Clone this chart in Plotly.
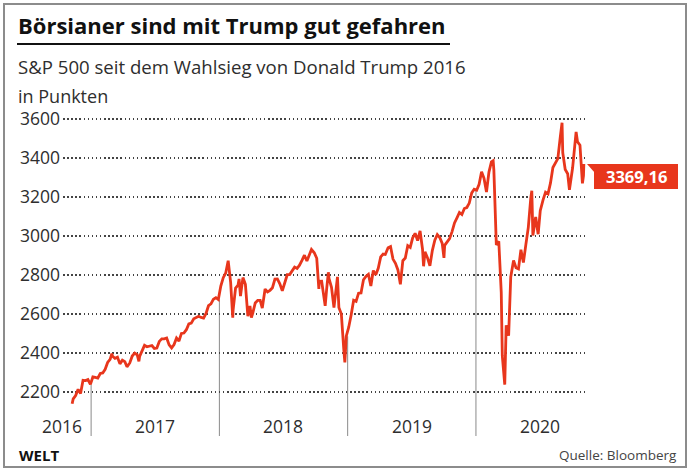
import plotly.graph_objects as go

# ---------------- data (S&P 500 approx. weekly) ----------------
dates = [
    "2016-11-08", "2016-11-11", "2016-11-18", "2016-11-25", "2016-12-02", "2016-12-09",
    "2016-12-16", "2016-12-23", "2016-12-30",
    "2017-01-06", "2017-01-13", "2017-01-20", "2017-01-27", "2017-02-03", "2017-02-10",
    "2017-02-17", "2017-02-24", "2017-03-01", "2017-03-03", "2017-03-10", "2017-03-17",
    "2017-03-24", "2017-03-31", "2017-04-07", "2017-04-13", "2017-04-21", "2017-04-28",
    "2017-05-05", "2017-05-12", "2017-05-17", "2017-05-19", "2017-05-26", "2017-06-02",
    "2017-06-09", "2017-06-16", "2017-06-23", "2017-06-30", "2017-07-07", "2017-07-14",
    "2017-07-21", "2017-07-28", "2017-08-04", "2017-08-11", "2017-08-18", "2017-08-25",
    "2017-09-01", "2017-09-08", "2017-09-15", "2017-09-22", "2017-09-29", "2017-10-06",
    "2017-10-13", "2017-10-20", "2017-10-27", "2017-11-03", "2017-11-10", "2017-11-17",
    "2017-11-24", "2017-12-01", "2017-12-08", "2017-12-15", "2017-12-22", "2017-12-29",
    "2018-01-05", "2018-01-12", "2018-01-19", "2018-01-26", "2018-02-02", "2018-02-08",
    "2018-02-09", "2018-02-16", "2018-02-23", "2018-02-26", "2018-03-02", "2018-03-09",
    "2018-03-16", "2018-03-23", "2018-03-29", "2018-04-02", "2018-04-06", "2018-04-13",
    "2018-04-20", "2018-04-27", "2018-05-03", "2018-05-11", "2018-05-18", "2018-05-25",
    "2018-06-01", "2018-06-08", "2018-06-15", "2018-06-22", "2018-06-29", "2018-07-06",
    "2018-07-13", "2018-07-20", "2018-07-27", "2018-08-03", "2018-08-10", "2018-08-17",
    "2018-08-24", "2018-08-31", "2018-09-07", "2018-09-14", "2018-09-20", "2018-09-28",
    "2018-10-05", "2018-10-11", "2018-10-12", "2018-10-19", "2018-10-26", "2018-10-29",
    "2018-11-02", "2018-11-07", "2018-11-09", "2018-11-16", "2018-11-23", "2018-11-30",
    "2018-12-03", "2018-12-07", "2018-12-14", "2018-12-21", "2018-12-24", "2018-12-28",
    "2019-01-04", "2019-01-11", "2019-01-18", "2019-01-25", "2019-02-01", "2019-02-08",
    "2019-02-15", "2019-02-22", "2019-03-01", "2019-03-08", "2019-03-15", "2019-03-22",
    "2019-03-29", "2019-04-05", "2019-04-12", "2019-04-18", "2019-04-26", "2019-05-03",
    "2019-05-10", "2019-05-17", "2019-05-24", "2019-05-31", "2019-06-07", "2019-06-14",
    "2019-06-21", "2019-06-28", "2019-07-05", "2019-07-12", "2019-07-19", "2019-07-26",
    "2019-08-02", "2019-08-05", "2019-08-09", "2019-08-16", "2019-08-23", "2019-08-30",
    "2019-09-06", "2019-09-13", "2019-09-20", "2019-09-27", "2019-10-02", "2019-10-04",
    "2019-10-11", "2019-10-18", "2019-10-25", "2019-11-01", "2019-11-08", "2019-11-15",
    "2019-11-22", "2019-11-29", "2019-12-06", "2019-12-13", "2019-12-20", "2019-12-27",
    "2020-01-03", "2020-01-10", "2020-01-17", "2020-01-24", "2020-01-31", "2020-02-07",
    "2020-02-14", "2020-02-19", "2020-02-21", "2020-02-28", "2020-03-06", "2020-03-13",
    "2020-03-16", "2020-03-20", "2020-03-23", "2020-03-27", "2020-04-03", "2020-04-09",
    "2020-04-17", "2020-04-24", "2020-05-01", "2020-05-08", "2020-05-15", "2020-05-22",
    "2020-05-29", "2020-06-05", "2020-06-08", "2020-06-11", "2020-06-19", "2020-06-26",
    "2020-07-02", "2020-07-10", "2020-07-17", "2020-07-24", "2020-07-31", "2020-08-07",
    "2020-08-14", "2020-08-21", "2020-08-28", "2020-09-02", "2020-09-04", "2020-09-11",
    "2020-09-18", "2020-09-23", "2020-10-02", "2020-10-09", "2020-10-12", "2020-10-16",
    "2020-10-23", "2020-10-30", "2020-11-02", "2020-11-03",
]
values = [
    2139.56, 2164.45, 2181.90, 2213.35, 2191.95, 2259.53,
    2258.07, 2263.79, 2238.83,
    2276.98, 2274.64, 2271.31, 2294.69, 2297.42, 2316.10,
    2351.16, 2367.34, 2395.96, 2383.12, 2372.60, 2378.25,
    2343.98, 2362.72, 2355.54, 2328.95, 2348.69, 2384.20,
    2399.29, 2390.90, 2357.03, 2381.73, 2415.82, 2439.07,
    2431.77, 2433.15, 2438.30, 2423.41, 2425.18, 2459.27,
    2472.54, 2472.10, 2476.83, 2441.32, 2425.55, 2443.05,
    2476.55, 2461.43, 2500.23, 2502.22, 2519.36, 2549.33,
    2553.17, 2575.21, 2581.07, 2587.84, 2582.30, 2578.85,
    2602.42, 2642.22, 2651.50, 2675.81, 2683.34, 2673.61,
    2743.15, 2786.24, 2810.30, 2872.87, 2762.13, 2581.00,
    2619.55, 2732.22, 2747.30, 2779.60, 2691.25, 2786.57,
    2752.01, 2588.26, 2640.87, 2581.88, 2604.47, 2656.30,
    2670.14, 2669.91, 2629.73, 2727.72, 2712.97, 2721.33,
    2734.62, 2779.03, 2779.66, 2754.88, 2718.37, 2759.82,
    2801.31, 2801.83, 2818.82, 2840.35, 2833.28, 2850.13,
    2874.69, 2901.52, 2871.68, 2904.98, 2930.75, 2913.98,
    2885.57, 2728.37, 2767.13, 2767.78, 2658.69, 2641.25,
    2723.06, 2813.89, 2781.01, 2736.27, 2632.56, 2760.17,
    2790.37, 2633.08, 2599.95, 2416.62, 2351.10, 2485.74,
    2531.94, 2596.26, 2670.71, 2664.76, 2706.53, 2707.88,
    2775.60, 2792.67, 2803.69, 2743.07, 2822.48, 2800.71,
    2834.40, 2892.74, 2907.41, 2905.03, 2939.88, 2945.64,
    2881.40, 2859.53, 2826.06, 2752.06, 2873.34, 2886.98,
    2950.46, 2941.76, 2990.41, 3013.77, 2976.61, 3025.86,
    2932.05, 2844.74, 2918.65, 2888.68, 2847.11, 2926.46,
    2978.71, 3007.39, 2992.07, 2961.79, 2887.61, 2952.01,
    2970.27, 2986.20, 3022.55, 3066.91, 3093.08, 3120.46,
    3110.29, 3140.98, 3145.91, 3168.80, 3221.22, 3240.02,
    3234.85, 3265.35, 3329.62, 3295.47, 3225.52, 3327.71,
    3380.16, 3386.15, 3337.75, 2954.22, 2972.37, 2711.02,
    2386.13, 2304.92, 2237.40, 2541.47, 2488.65, 2789.82,
    2874.56, 2836.74, 2830.71, 2929.80, 2863.70, 2955.45,
    3044.31, 3193.93, 3232.39, 3002.10, 3097.74, 3009.05,
    3130.01, 3185.04, 3224.73, 3215.63, 3271.12, 3351.28,
    3372.85, 3397.16, 3508.01, 3580.84, 3426.96, 3340.97,
    3319.47, 3236.92, 3348.44, 3477.13, 3534.22, 3483.81,
    3465.39, 3269.96, 3310.24, 3369.16,
]
y_ticks = [2200, 2400, 2600, 2800, 3000, 3200, 3400, 3600]
year_labels = ["2017", "2018", "2019", "2020"]
year_label_dates = ["2017-07-02", "2018-07-02", "2019-07-02", "2020-07-01"]
first_year_label = "2016"
separator_years = [2017, 2018, 2019, 2020]

title = "Börsianer sind mit Trump gut gefahren"
subtitle = "S&P 500 seit dem Wahlsieg von Donald Trump 2016"
unit = "in Punkten"
source = "Quelle: Bloomberg"
brand = "WELT"

# ---------------- layout geometry ----------------
W, H = 688, 470
ML, MR, MT, MB = 63, 101, 112, 34
PW, PH = W - ML - MR, H - MT - MB
Y_RANGE = [1974, 3636]
X_RANGE = ["2016-10-13", "2020-11-12"]
RED = "#e8361c"
FONT = "Open Sans"
TXT = "#2e2e2e"


def px_x(px):
    return (px - ML) / PW


def px_y(py):
    return (H - MB - py) / PH


def val_to_paper(v):
    return (v - Y_RANGE[0]) / (Y_RANGE[1] - Y_RANGE[0])


fig = go.Figure()
fig.add_trace(go.Scatter(
    x=dates, y=values, mode="lines",
    line=dict(color=RED, width=2.8),
    hoverinfo="skip", showlegend=False,
))

shapes = []
# year separators from the line down to the bottom
for yr in separator_years:
    prev = [v for d, v in zip(dates, values) if d < f"{yr}-01-01"][-1]
    shapes.append(dict(type="line", xref="x", yref="y",
                       x0=f"{yr}-01-01", x1=f"{yr}-01-01",
                       y0=Y_RANGE[0], y1=prev,
                       line=dict(color="#8a8a8a", width=1), layer="below"))

# title underline
shapes.append(dict(type="line", xref="paper", yref="paper",
                   x0=px_x(17), x1=px_x(450), y0=px_y(44), y1=px_y(44),
                   line=dict(color="#111", width=2)))
# outer frame
shapes.append(dict(type="rect", xref="paper", yref="paper",
                   x0=px_x(4), x1=px_x(686), y0=px_y(467), y1=px_y(4),
                   line=dict(color="#8c8c8c", width=2)))

# last-value label box
last = values[-1]
top = val_to_paper(last)
box_h = 25 / PH
shapes.append(dict(type="rect", xref="paper", yref="paper",
                   x0=px_x(594), x1=px_x(678), y0=top - box_h, y1=top,
                   fillcolor=RED, line=dict(width=0)))
notch = (f"M {px_x(587)} {top} L {px_x(595)} {top} "
         f"L {px_x(595)} {top - 9 / PH} Z")
shapes.append(dict(type="path", xref="paper", yref="paper", path=notch,
                   fillcolor=RED, line=dict(width=0)))

annotations = [
    dict(text=f"<b>{title}</b>", xref="paper", yref="paper", x=px_x(16), y=px_y(25),
         xanchor="left", yanchor="middle", showarrow=False,
         font=dict(family=FONT, size=22, color="#111", weight=800)),
    dict(text=subtitle, xref="paper", yref="paper", x=px_x(16), y=px_y(66),
         xanchor="left", yanchor="middle", showarrow=False,
         font=dict(family=FONT, size=18.6, color=TXT)),
    dict(text=unit, xref="paper", yref="paper", x=px_x(16), y=px_y(96),
         xanchor="left", yanchor="middle", showarrow=False,
         font=dict(family=FONT, size=18, color=TXT)),
    dict(text=f"<b>{brand}</b>", xref="paper", yref="paper", x=px_x(17), y=px_y(455),
         xanchor="left", yanchor="middle", showarrow=False,
         font=dict(family=FONT, size=15, color="#111", weight=800)),
    dict(text=source, xref="paper", yref="paper", x=px_x(679), y=px_y(455),
         xanchor="right", yanchor="middle", showarrow=False,
         font=dict(family=FONT, size=13.5, color="#444")),
    dict(text="<b>" + f"{last:.2f}".replace(".", ",") + "</b>",
         xref="paper", yref="paper", x=px_x(636), y=top - box_h / 2,
         xanchor="center", yanchor="middle", showarrow=False,
         font=dict(family=FONT, size=16.5, color="white")),
    dict(text=first_year_label, xref="paper", yref="paper", x=px_x(62), y=px_y(426),
         xanchor="center", yanchor="middle", showarrow=False,
         font=dict(family=FONT, size=17.5, color=TXT)),
]
for lab, d in zip(year_labels, year_label_dates):
    annotations.append(dict(text=lab, xref="x", yref="paper", x=d, y=px_y(426),
                            xanchor="center", yanchor="middle", showarrow=False,
                            font=dict(family=FONT, size=17.5, color=TXT)))

fig.update_layout(
    width=W, height=H,
    margin=dict(l=ML, r=MR, t=MT, b=MB),
    paper_bgcolor="white", plot_bgcolor="white",
    shapes=shapes, annotations=annotations,
    showlegend=False,
    xaxis=dict(type="date", range=X_RANGE, showgrid=False, showticklabels=False,
               zeroline=False, showline=False, ticks=""),
    yaxis=dict(range=Y_RANGE, tickvals=y_ticks, ticktext=[str(t) for t in y_ticks],
               showgrid=True, gridcolor="#444", gridwidth=1.5, griddash="1.5px,2.6px",
               zeroline=False, showline=False, ticks="", ticklabelstandoff=2,
               tickfont=dict(family=FONT, size=17.5, color=TXT)),
)

fig.write_html("out.html")
